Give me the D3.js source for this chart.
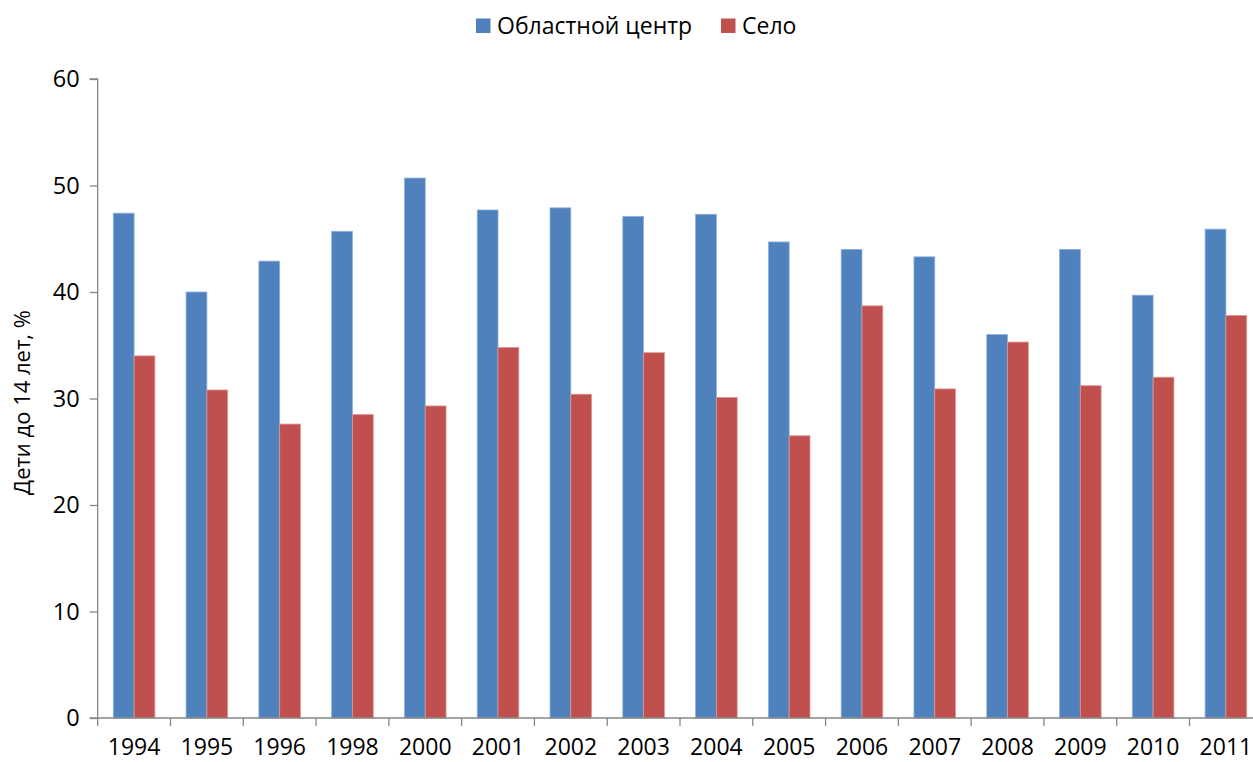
<!DOCTYPE html>
<html>
<head>
<meta charset="utf-8">
<script src="https://cdn.jsdelivr.net/npm/d3@7"></script>
<style>
  html, body { margin: 0; padding: 0; background: #fff; overflow: hidden; }
  svg { display: block; font-family: "Open Sans", "Noto Sans", sans-serif; }
</style>
</head>
<body>
<svg id="chart" width="1253" height="762"></svg>
<script>
const categories = ["1994","1995","1996","1998","2000","2001","2002","2003","2004","2005","2006","2007","2008","2009","2010","2011"];
const seriesNames = ["Областной центр", "Село"];
const oblastCenter = [47.4, 40.0, 42.9, 45.7, 50.7, 47.7, 47.9, 47.1, 47.3, 44.7, 44.0, 43.3, 36.0, 44.0, 39.7, 45.9];
const selo = [34.0, 30.8, 27.6, 28.5, 29.3, 34.8, 30.4, 34.3, 30.1, 26.5, 38.7, 30.9, 35.3, 31.2, 32.0, 37.8];
const yTicks = [0, 10, 20, 30, 40, 50, 60];
const yLabel = "Дети до 14 лет, %";
const colors = ["#4F81BD", "#C0504D"];

const svg = d3.select("#chart");
const mLeft = 97.7, mRight = 1262.3, mTop = 79, mBottom = 718;

const x = d3.scaleBand().domain(categories).range([mLeft, mRight]).paddingInner(0).paddingOuter(0);
const xs = d3.scaleBand().domain(seriesNames).range([0, x.bandwidth()]).paddingInner(0).paddingOuter(0.75);
const y = d3.scaleLinear().domain([0, 60]).range([mBottom, mTop]);

const data = categories.map((c, i) => ({cat: c, values: [oblastCenter[i], selo[i]]}));

// bars
const groups = svg.append("g").selectAll("g").data(data).join("g")
  .attr("transform", d => `translate(${x(d.cat)},0)`);
groups.selectAll("rect").data(d => d.values.map((v, k) => ({name: seriesNames[k], v, k})))
  .join("rect")
  .attr("x", d => xs(d.name))
  .attr("width", xs.bandwidth())
  .attr("y", d => y(d.v))
  .attr("height", d => y(0) - y(d.v))
  .attr("fill", d => colors[d.k])
  .attr("stroke", d => d.k === 0 ? "#8FB0DA" : "#DB9896")
  .attr("stroke-width", 0.8);

// y axis
const yAxis = d3.axisLeft(y).tickValues(yTicks).tickSize(8).tickPadding(10);
const gy = svg.append("g").attr("transform", `translate(${mLeft},0)`).call(yAxis);
gy.select(".domain").attr("stroke", "#868686").attr("stroke-width", 1.3).attr("d", `M-8,${mTop}H0V${mBottom}H-8`);
gy.selectAll(".tick line").attr("stroke", "#868686").attr("stroke-width", 1.3);
gy.selectAll(".tick text").attr("font-size", 23.5).attr("fill", "#000").attr("font-family", "Open Sans, sans-serif");

// x axis
const xAxis = d3.axisBottom(x).tickSize(0).tickPadding(21);
const gx = svg.append("g").attr("transform", `translate(0,${mBottom})`).call(xAxis);
gx.select(".domain").attr("stroke", "#868686").attr("stroke-width", 1.3).attr("d", `M${mLeft},0H${mRight}`);
gx.selectAll(".tick text").attr("font-size", 23).attr("fill", "#000").attr("font-family", "Open Sans, sans-serif");
// category separator ticks
const sep = categories.map(c => x(c)).concat([mRight]);
gx.selectAll("line.sep").data(sep).join("line").attr("class", "sep")
  .attr("x1", d => d).attr("x2", d => d).attr("y1", 0).attr("y2", 8)
  .attr("stroke", "#868686").attr("stroke-width", 1.3);

// y label
svg.append("text")
  .attr("transform", `translate(30,${(mTop + mBottom) / 2 + 4}) rotate(-90)`)
  .attr("text-anchor", "middle")
  .attr("font-size", 22)
  .text(yLabel);

// legend
const legendItems = [{name: seriesNames[0], x: 476}, {name: seriesNames[1], x: 721}];
const lg = svg.append("g");
legendItems.forEach((it, k) => {
  lg.append("rect").attr("x", it.x).attr("y", 18.5).attr("width", 14.5).attr("height", 14.5).attr("fill", colors[k]);
  lg.append("text").attr("x", it.x + 21).attr("y", 34).attr("font-size", 23).text(it.name);
});
</script>
</body>
</html>
